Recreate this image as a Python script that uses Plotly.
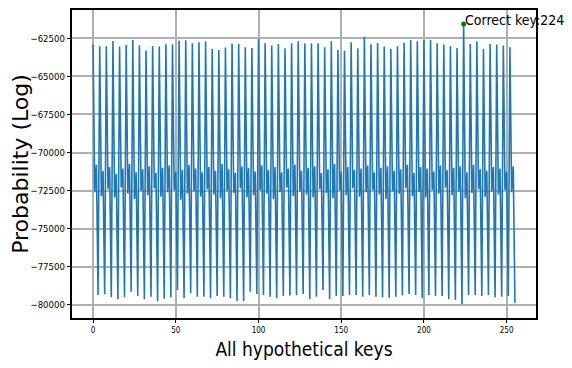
import plotly.graph_objects as go

keys = list(range(256))

# log-probability per hypothetical key, rows of 4 keys: [4k, 4k+1, 4k+2, 4k+3]
log_prob = [
    -62913, -72600, -70800, -79353,
    -63022, -72850, -71200, -79310,
    -63022, -72400, -70950, -79506,
    -62672, -72950, -71400, -79637,
    -63044, -72300, -71050, -79506,
    -62934, -72700, -70750, -79135,
    -62607, -73050, -71300, -79419,
    -62956, -72500, -71100, -79637,
    -63306, -72800, -70900, -79462,
    -63000, -72350, -71350, -79768,
    -63044, -72900, -71000, -79593,
    -62891, -72600, -70850, -79506,
    -62891, -72450, -71250, -79025,
    -62651, -73100, -71150, -79571,
    -62629, -72700, -70800, -79244,
    -62825, -72550, -71050, -79462,
    -62760, -72900, -71300, -79462,
    -62716, -72400, -70950, -79571,
    -63196, -72750, -71200, -79419,
    -63262, -73000, -70750, -79462,
    -63109, -72500, -71100, -79571,
    -62847, -72650, -71350, -79746,
    -62869, -72350, -70900, -79746,
    -63087, -72950, -71000, -79135,
    -63131, -72800, -71250, -79288,
    -62541, -72450, -70850, -79353,
    -62825, -72700, -71150, -79462,
    -62978, -73050, -70950, -79571,
    -62869, -72600, -71300, -79419,
    -63152, -72300, -71050, -79380,
    -62825, -72850, -70800, -79375,
    -62694, -72550, -71200, -79288,
    -62847, -72750, -71000, -79637,
    -62825, -72950, -70900, -79462,
    -62825, -72400, -71350, -79025,
    -63087, -72650, -71100, -79637,
    -62694, -73000, -70750, -79419,
    -63262, -72500, -71250, -79419,
    -63306, -72800, -70950, -79353,
    -62760, -72350, -71150, -79353,
    -63152, -72900, -71050, -79462,
    -62389, -72600, -70850, -79353,
    -62891, -72450, -71300, -79462,
    -62803, -72750, -71000, -79506,
    -63044, -73050, -70900, -79528,
    -63196, -72550, -71200, -79462,
    -63022, -72700, -71100, -79380,
    -62782, -72350, -70800, -79288,
    -62607, -72850, -71350, -79353,
    -62694, -72600, -70950, -79571,
    -62607, -72950, -71050, -79353,
    -62607, -72450, -71250, -79419,
    -62825, -72700, -70850, -79419,
    -62913, -72300, -71150, -79637,
    -63022, -72800, -71000, -79680,
    -63131, -72550, -70900, -79943,
    -61559, -73000, -71300, -79353,
    -62869, -72650, -70800, -79353,
    -62694, -72400, -71100, -79419,
    -63196, -72900, -71200, -79353,
    -62869, -72550, -70950, -79506,
    -62913, -72750, -71050, -79462,
    -62978, -72450, -71250, -79419,
    -63087, -72600, -70900, -79855,
]

correct_key = 224

x_ticks = [0, 50, 100, 150, 200, 250]
y_ticks = [-80000, -77500, -75000, -72500, -70000, -67500, -65000, -62500]
y_tick_text = ["\u2212" + str(abs(v)) for v in y_ticks]

fig = go.Figure()
fig.add_trace(go.Scatter(
    x=keys, y=log_prob, mode="lines",
    line=dict(color="#1f77b4", width=1.6),
    showlegend=False, hoverinfo="skip",
))
fig.add_trace(go.Scatter(
    x=[correct_key], y=[log_prob[correct_key]], mode="markers",
    marker=dict(color="green", size=5),
    showlegend=False, hoverinfo="skip", cliponaxis=False,
))
fig.add_annotation(
    x=correct_key, y=log_prob[correct_key],
    text="Correct key:" + str(correct_key),
    showarrow=False, xanchor="left", yanchor="bottom",
    xshift=-1, yshift=-6,
    font=dict(family="Liberation Sans Narrow, DejaVu Sans Condensed, DejaVu Sans", size=14, color="black"),
)

axis_common = dict(
    showgrid=True, gridcolor="#b0b0b0", gridwidth=1.5,
    showline=True, linecolor="black", linewidth=1.5, mirror=True,
    ticks="outside", ticklen=3.5, tickwidth=1, tickcolor="black",
    zeroline=False, automargin=False,
)

fig.update_xaxes(
    range=[-12.75, 267.75], tickvals=x_ticks,
    tickfont=dict(family="DejaVu Sans Condensed, DejaVu Sans", size=8, color="black"),
    title=dict(text="All hypothetical keys",
               font=dict(family="Liberation Sans Narrow, DejaVu Sans Condensed, DejaVu Sans", size=19, color="black"),
               standoff=9),
    **axis_common,
)
fig.update_yaxes(
    range=[-80862, -60640], tickvals=y_ticks, ticktext=y_tick_text,
    tickfont=dict(family="DejaVu Sans Condensed, DejaVu Sans", size=9.5, color="black"),
    title=dict(text="Probability (Log)",
               font=dict(family="DejaVu Sans", size=22, color="black"),
               standoff=1),
    **axis_common,
)

# page body has an 8px margin; size the figure so the plot area lands where the reference has it
fig.update_layout(
    width=564, height=360,
    margin=dict(l=64, r=36, t=2, b=50),
    paper_bgcolor="white", plot_bgcolor="white",
)

fig.write_html("out.html")
